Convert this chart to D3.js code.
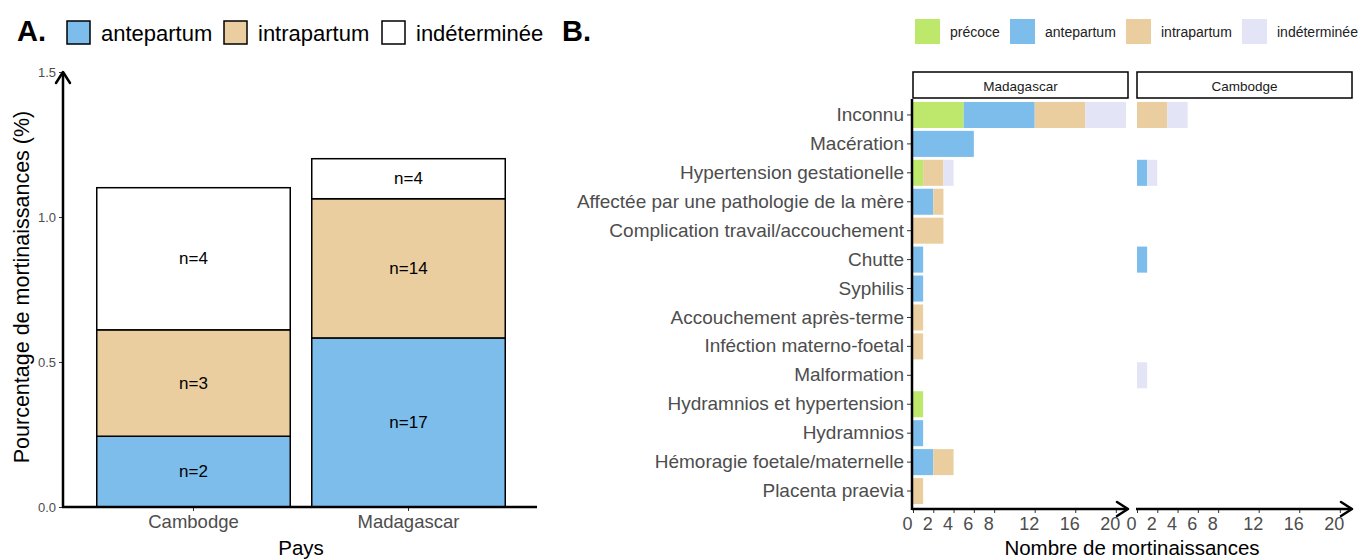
<!DOCTYPE html>
<html>
<head>
<meta charset="utf-8">
<script src="https://cdn.jsdelivr.net/npm/d3@7"></script>
<style>
  body { margin: 0; background: #fff; }
  text { font-family: "Liberation Sans", Arial, sans-serif; }
</style>
</head>
<body>
<div id="chart"></div>
<script>
// ---- data, panel A ----
const pays = ['Cambodge', 'Madagascar'];
const typesA = ['antepartum', 'intrapartum', 'indéterminée'];
const pctAntepartum = [0.244, 0.583];
const pctIntrapartum = [0.367, 0.480];
const pctIndeterminee = [0.490, 0.138];
const nAntepartum = [2, 17];
const nIntrapartum = [3, 14];
const nIndeterminee = [4, 4];
const ticksA = [0, 0.5, 1.0, 1.5];

// ---- data, panel B ----
const causes = ['Inconnu', 'Macération', 'Hypertension gestationelle',
    'Affectée par une pathologie de la mère', 'Complication travail/accouchement',
    'Chutte', 'Syphilis', 'Accouchement après-terme', 'Inféction materno-foetal',
    'Malformation', 'Hydramnios et hypertension', 'Hydramnios',
    'Hémoragie foetale/maternelle', 'Placenta praevia'];
const typesB = ['précoce', 'antepartum', 'intrapartum', 'indéterminée'];
const facets = ['Madagascar', 'Cambodge'];
const madPrecoce      = [5, 0, 1, 0, 0, 0, 0, 0, 0, 0, 1, 0, 0, 0];
const madAntepartum   = [7, 6, 0, 2, 0, 1, 1, 0, 0, 0, 0, 1, 2, 0];
const madIntrapartum  = [5, 0, 2, 1, 3, 0, 0, 1, 1, 0, 0, 0, 2, 1];
const madIndeterminee = [4, 0, 1, 0, 0, 0, 0, 0, 0, 0, 0, 0, 0, 0];
const camPrecoce      = [0, 0, 0, 0, 0, 0, 0, 0, 0, 0, 0, 0, 0, 0];
const camAntepartum   = [0, 0, 1, 0, 0, 1, 0, 0, 0, 0, 0, 0, 0, 0];
const camIntrapartum  = [3, 0, 0, 0, 0, 0, 0, 0, 0, 0, 0, 0, 0, 0];
const camIndeterminee = [2, 0, 1, 0, 0, 0, 0, 0, 0, 1, 0, 0, 0, 0];
const ticksB = [0, 2, 4, 6, 8, 12, 16, 20];

const colA = { 'antepartum': '#7cbdeb', 'intrapartum': '#ebcea0', 'indéterminée': '#ffffff' };
const colB = { 'précoce': '#bde86c', 'antepartum': '#7cbdeb', 'intrapartum': '#ebcea0', 'indéterminée': '#e4e4f7' };
const grey = '#4d4d4d';

const svg = d3.select('#chart').append('svg')
    .attr('width', 1359).attr('height', 559);

// arrow head helper (open arrow)
const arrow = (g, x, y, dir) => {
    const L = 11, W = 7;
    let pts;
    if (dir === 'up') pts = [[x - W, y + L], [x, y], [x + W, y + L]];
    else pts = [[x - L, y - W], [x, y], [x - L, y + W]];
    g.append('path').attr('d', d3.line()(pts))
        .attr('fill', 'none').attr('stroke', '#000').attr('stroke-width', 2.5)
        .attr('stroke-linecap', 'round').attr('stroke-linejoin', 'round');
};

// ================= PANEL A =================
const gA = svg.append('g');
gA.append('text').attr('x', 17).attr('y', 41).text('A.')
    .style('font-size', '29px').style('font-weight', 'bold');

// legend A
const legA = [[67, 'antepartum'], [224, 'intrapartum'], [382, 'indéterminée']];
legA.forEach(([lx, t]) => {
    gA.append('rect').attr('x', lx).attr('y', 21).attr('width', 23).attr('height', 23)
        .attr('fill', colA[t]).attr('stroke', '#000').attr('stroke-width', 1.5);
    gA.append('text').attr('x', lx + 34).attr('y', 33).attr('dominant-baseline', 'central')
        .style('font-size', '22px').text(t);
});

const xA = d3.scaleBand().domain(pays).range([64.5, 537.5])
    .paddingInner(0.1).paddingOuter(0.15);
const yA = d3.scaleLinear().domain([0, 1.5]).range([507, 72]);

const stackA = d3.stack().keys(typesA)(pays.map((p, i) => ({
    pays: p,
    'antepartum': pctAntepartum[i],
    'intrapartum': pctIntrapartum[i],
    'indéterminée': pctIndeterminee[i]
})));
const nA = { 'antepartum': nAntepartum, 'intrapartum': nIntrapartum, 'indéterminée': nIndeterminee };

stackA.forEach(layer => {
    layer.forEach((d, i) => {
        gA.append('rect')
            .attr('x', xA(d.data.pays))
            .attr('y', yA(d[1]))
            .attr('width', xA.bandwidth())
            .attr('height', yA(d[0]) - yA(d[1]))
            .attr('fill', colA[layer.key])
            .attr('stroke', '#000').attr('stroke-width', 1.5);
        gA.append('text')
            .attr('x', xA(d.data.pays) + xA.bandwidth() / 2)
            .attr('y', yA((d[0] + d[1]) / 2))
            .attr('text-anchor', 'middle').attr('dominant-baseline', 'central')
            .style('font-size', '17px')
            .text('n=' + nA[layer.key][i]);
    });
});

// axes A
const yAxisA = gA.append('g').attr('transform', 'translate(63,0)')
    .call(d3.axisLeft(yA).tickValues(ticksA).tickFormat(d3.format('.1f')).tickSize(4).tickPadding(3));
yAxisA.select('.domain').remove();
yAxisA.selectAll('.tick line').attr('stroke', '#333');
yAxisA.selectAll('.tick text').attr('fill', grey).style('font-size', '13px')
    .style('font-family', '"Liberation Sans", Arial, sans-serif');
gA.append('line').attr('x1', 63).attr('x2', 63).attr('y1', 508).attr('y2', 73)
    .attr('stroke', '#000').attr('stroke-width', 2.5);
arrow(gA, 63, 72, 'up');

const xAxisA = gA.append('g').attr('transform', 'translate(0,507)')
    .call(d3.axisBottom(xA).tickSize(4).tickPadding(4));
xAxisA.select('.domain').remove();
xAxisA.selectAll('.tick line').attr('stroke', '#333');
xAxisA.selectAll('.tick text').attr('fill', grey).style('font-size', '18.5px')
    .style('font-family', '"Liberation Sans", Arial, sans-serif');
gA.append('line').attr('x1', 62).attr('x2', 537).attr('y1', 507).attr('y2', 507)
    .attr('stroke', '#000').attr('stroke-width', 2.5);

gA.append('text').attr('x', 301).attr('y', 555).attr('text-anchor', 'middle')
    .style('font-size', '20.5px').text('Pays');
gA.append('text').attr('transform', 'translate(29,287) rotate(-90)')
    .attr('text-anchor', 'middle').style('font-size', '21.5px')
    .text('Pourcentage de mortinaissances (%)');

// ================= PANEL B =================
const gB = svg.append('g');
gB.append('text').attr('x', 562).attr('y', 41).text('B.')
    .style('font-size', '29px').style('font-weight', 'bold');

// legend B
const legB = [[915, 'précoce'], [1010, 'antepartum'], [1126, 'intrapartum'], [1242, 'indéterminée']];
legB.forEach(([lx, t]) => {
    gB.append('rect').attr('x', lx).attr('y', 19).attr('width', 25).attr('height', 25)
        .attr('fill', colB[t]);
    gB.append('text').attr('x', lx + 35).attr('y', 32).attr('dominant-baseline', 'central')
        .style('font-size', '14px').attr('fill', '#222').text(t);
});

const yB = d3.scaleBand().domain(causes).range([100.5, 505.5])
    .paddingInner(0.1).paddingOuter(0.05);

const facetData = {
    'Madagascar': { 'précoce': madPrecoce, 'antepartum': madAntepartum, 'intrapartum': madIntrapartum, 'indéterminée': madIndeterminee },
    'Cambodge': { 'précoce': camPrecoce, 'antepartum': camAntepartum, 'intrapartum': camIntrapartum, 'indéterminée': camIndeterminee }
};
const facetX0 = { 'Madagascar': 913, 'Cambodge': 1137 };

facets.forEach(f => {
    const x0 = facetX0[f];
    const xB = d3.scaleLinear().domain([0, 21.2]).range([x0, x0 + 215]);
    const rows = causes.map((c, i) => {
        const r = { cause: c };
        typesB.forEach(t => { r[t] = facetData[f][t][i]; });
        return r;
    });
    const stackB = d3.stack().keys(typesB)(rows);

    gB.append('g').selectAll('g').data(stackB).join('g')
        .attr('fill', d => colB[d.key])
        .selectAll('rect').data(d => d.filter(s => s[1] > s[0])).join('rect')
        .attr('x', d => xB(d[0]))
        .attr('y', d => yB(d.data.cause))
        .attr('width', d => xB(d[1]) - xB(d[0]))
        .attr('height', yB.bandwidth());

    // strip
    gB.append('rect').attr('x', x0).attr('y', 72).attr('width', 215).attr('height', 26)
        .attr('fill', '#fff').attr('stroke', '#000').attr('stroke-width', 1.5);
    gB.append('text').attr('x', x0 + 107.5).attr('y', 86).attr('text-anchor', 'middle')
        .attr('dominant-baseline', 'central').style('font-size', '13.5px').attr('fill', '#1a1a1a')
        .text(f);

    // x axis
    const xAxisB = gB.append('g').attr('transform', 'translate(0,509)')
        .call(d3.axisBottom(xB).tickValues(ticksB).tickSize(4).tickPadding(4));
    xAxisB.select('.domain').remove();
    xAxisB.selectAll('.tick line').attr('stroke', '#333');
    xAxisB.selectAll('.tick text').attr('fill', grey).attr('dx', -6).style('font-size', '18px')
        .style('font-family', '"Liberation Sans", Arial, sans-serif');
    gB.append('line').attr('x1', x0 - 1).attr('x2', x0 + 214).attr('y1', 509).attr('y2', 509)
        .attr('stroke', '#000').attr('stroke-width', 2.5);
    arrow(gB, x0 + 215, 509, 'right');
});

// y axis B (Madagascar facet only)
const yAxisB = gB.append('g').attr('transform', 'translate(912,0)')
    .call(d3.axisLeft(yB).tickSize(5).tickPadding(3));
yAxisB.select('.domain').remove();
yAxisB.selectAll('.tick line').attr('stroke', '#333');
yAxisB.selectAll('.tick text').attr('fill', grey).style('font-size', '19px')
    .style('font-family', '"Liberation Sans", Arial, sans-serif');
gB.append('line').attr('x1', 912).attr('x2', 912).attr('y1', 99).attr('y2', 510)
    .attr('stroke', '#000').attr('stroke-width', 2.5);

gB.append('text').attr('x', 1132).attr('y', 555).attr('text-anchor', 'middle')
    .style('font-size', '20.5px').text('Nombre de mortinaissances');
</script>
</body>
</html>
